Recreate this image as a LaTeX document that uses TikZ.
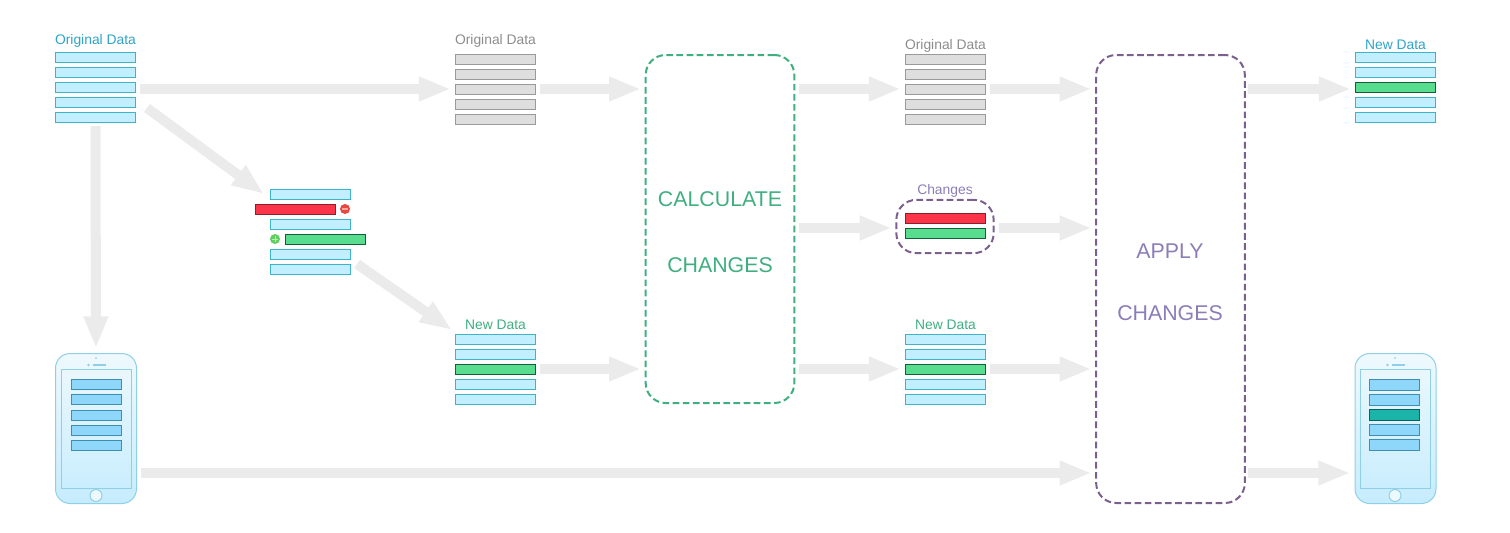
\documentclass[tikz,border=0pt]{standalone}
\usepackage{fontspec}
\setmainfont{Liberation Sans}
\usetikzlibrary{arrows.meta}
\definecolor{rowfill}{HTML}{C2EFFF}
\definecolor{rowline}{HTML}{3FB4C8}
\definecolor{grayfill}{HTML}{DEDEDE}
\definecolor{grayline}{HTML}{9A9A9A}
\definecolor{greenfill}{HTML}{57DD8D}
\definecolor{greenline}{HTML}{125F3C}
\definecolor{redfill}{HTML}{FB3449}
\definecolor{redline}{HTML}{8C1F2C}
\definecolor{flow}{HTML}{EBEBEB}
\definecolor{calcgreen}{HTML}{3FAF80}
\definecolor{applyline}{HTML}{7A5F8F}
\definecolor{applytext}{HTML}{8C7DB8}
\definecolor{labelblue}{HTML}{2FA3C9}
\definecolor{labelgray}{HTML}{8C8C8C}
\definecolor{phoneline}{HTML}{8FD0E8}
\definecolor{phonerow}{HTML}{8FD6FB}
\definecolor{phonerowline}{HTML}{3C8FB0}
\definecolor{tealfill}{HTML}{1AB5A8}
\definecolor{tealline}{HTML}{0C5F60}
\definecolor{phonetop}{HTML}{EEF9FD}
\definecolor{phonebot}{HTML}{C6ECFD}
\definecolor{minusfill}{HTML}{E8483F}
\definecolor{minusbar}{HTML}{F5A8A0}
\definecolor{plusfill}{HTML}{5FD060}
\definecolor{plusbar}{HTML}{B5EDB5}
\tikzset{
	row/.style={draw=rowline, fill=rowfill, line width=0.75pt, minimum width=60pt, minimum height=7.5pt, inner sep=0pt, outer sep=0pt},
	grayrow/.style={row, draw=grayline, fill=grayfill},
	newrow/.style={row, draw=greenline, fill=greenfill},
	delrow/.style={row, draw=redline, fill=redfill},
	phonerowbox/.style={row, draw=phonerowline, fill=phonerow, minimum width=38pt, minimum height=7.8pt},
	tealrow/.style={phonerowbox, draw=tealline, fill=tealfill},
	flowarrow/.style={draw=flow, line width=7.5pt, -{Triangle[length=24pt, width=17pt]}},
	bigbox/.style={draw=#1, dashed, dash pattern=on 5pt off 2.6pt, line width=1.5pt, rounded corners=15pt, inner sep=0pt, outer sep=0pt},
	caption/.style={font=\fontsize{10.4pt}{12pt}\selectfont, inner sep=0pt},
	bigtext/.style={font=\fontsize{16pt}{18pt}\selectfont, inner sep=0pt},
	phonebody/.style={draw=phoneline, line width=0.75pt, rounded corners=11pt, top color=phonetop, bottom color=phonebot},
}
\begin{document}
\begin{tikzpicture}[x=0.75pt, y=-0.75pt]
	\useasboundingbox (0,0) rectangle (1510,532);
	% flow boxes
	\node[bigbox=calcgreen, minimum width=111.5pt, minimum height=261pt] (calc) at (720,229) {};
	\node[bigbox=applyline, minimum width=111.5pt, minimum height=336pt] (apply) at (1170.5,279) {};
	\node[bigbox=applyline, minimum width=73pt, minimum height=40pt] (chgbox) at (945,226.5) {};
	\node[bigtext, text=calcgreen] (calcup) at (720,199) {CALCULATE};
	\node[bigtext, text=calcgreen] (calcdown) at (720,265) {CHANGES};
	\node[bigtext, text=applytext] (applyup) at (1170,251) {APPLY};
	\node[bigtext, text=applytext] (applydown) at (1170,313) {CHANGES};
	% data stacks
	\node[caption, text=labelblue] (origcap) at (95.5,40.5) {Original Data};
	\foreach \i in {1,...,5}
		\node[row] (orig\i) at (95.5,{42+15*\i}) {};
	\node[caption, text=labelgray] (grayacap) at (495.5,40.5) {Original Data};
	\foreach \i in {1,...,5}
		\node[grayrow] (graya\i) at (495.5,{44+15*\i}) {};
	\node[caption, text=labelgray] (graybcap) at (945.5,45.5) {Original Data};
	\foreach \i in {1,...,5}
		\node[grayrow] (grayb\i) at (945.5,{44+15*\i}) {};
	\node[caption, text=labelblue] (donecap) at (1395.5,45) {New Data};
	\foreach \i/\s in {1/row,2/row,3/newrow,4/row,5/row}
		\node[\s] (done\i) at (1395.5,{42+15*\i}) {};
	\node[caption, text=calcgreen] (newacap) at (495.5,325) {New Data};
	\foreach \i/\s in {1/row,2/row,3/newrow,4/row,5/row}
		\node[\s] (newa\i) at (495.5,{324+15*\i}) {};
	\node[caption, text=calcgreen] (newbcap) at (945.5,325) {New Data};
	\foreach \i/\s in {1/row,2/row,3/newrow,4/row,5/row}
		\node[\s] (newb\i) at (945.5,{324+15*\i}) {};
	% diff stack
	\node[row] (diffa) at (310.5,194) {};
	\node[delrow] (diffb) at (295.5,209) {};
	\node[row] (diffc) at (310.5,224) {};
	\node[newrow] (diffd) at (325.5,239) {};
	\node[row] (diffe) at (310.5,254) {};
	\node[row] (difff) at (310.5,269) {};
	\node[circle, fill=minusfill, minimum size=7.5pt, inner sep=0pt] (minus) at (345,209) {};
	\draw[minusbar, line width=0.8pt] (minus.west) ++(1.5pt,0) -- ++(4.5pt,0);
	\node[circle, fill=plusfill, minimum size=7.5pt, inner sep=0pt] (plus) at (275,239) {};
	\draw[plusbar, line width=0.6pt] (plus.west) ++(1.5pt,0) -- ++(4.5pt,0);
	\draw[plusbar, line width=0.6pt] (plus.north) ++(0,-1.5pt) -- ++(0,-4.5pt);
	% changes
	\node[caption, text=applytext] (chgcap) at (945,190.5) {Changes};
	\node[delrow] (chga) at (945.5,218.5) {};
	\node[newrow] (chgb) at (945.5,233.5) {};
	% phones
	\draw[phonebody] (55.5,353.5) rectangle (136.5,503.5);
	\draw[draw=phoneline, line width=0.75pt] (61.5,369.5) rectangle (131,488);
	\draw[draw=phoneline, fill=phonetop, line width=0.75pt] (96,495.5) circle (6);
	\fill[phoneline] (96,358) circle (1);
	\fill[phoneline] (88.5,365) circle (1.3);
	\draw[phoneline, line width=1pt] (92.5,365) -- (105.5,365);
	\foreach \i/\y in {1/384.5,2/399.5,3/415.5,4/430.5,5/445.5}
		\node[phonerowbox] (ph\i) at (96.5,\y) {};
	\draw[phonebody] (1355,353.5) rectangle (1436,503.5);
	\draw[draw=phoneline, line width=0.75pt] (1360.5,369.5) rectangle (1430,488);
	\draw[draw=phoneline, fill=phonetop, line width=0.75pt] (1395,495.5) circle (6);
	\fill[phoneline] (1395,358) circle (1);
	\fill[phoneline] (1387.5,365) circle (1.3);
	\draw[phoneline, line width=1pt] (1391.5,365) -- (1404.5,365);
	\foreach \i/\s/\y in {1/phonerowbox/385,2/phonerowbox/400,3/tealrow/415,4/phonerowbox/430,5/phonerowbox/445}
		\node[\s] (pj\i) at (1394.5,\y) {};
	% anchors for phones and slanted arrows
	\coordinate (phleft) at (136.5,473);
	\coordinate (phright) at (1355,473);
	\coordinate (phtop) at (96,353);
	\coordinate (chgmid) at (945,228);
	\coordinate (diagastart) at (147,108);
	\coordinate (diagaend) at (264,194);
	\coordinate (diagbstart) at (357,264);
	\coordinate (diagbend) at (452,330);
	% flow arrows
	\draw[flowarrow, shorten <=3pt, shorten >=3.5pt] (orig3.east |- graya3) -- (graya3.west);
	\draw[flowarrow, shorten <=3pt, shorten >=3.5pt] (graya3.east) -- (graya3.east -| calc.west);
	\draw[flowarrow, shorten <=3.5pt, shorten >=3.5pt] (graya3.east -| calc.east) -- (grayb3.west);
	\draw[flowarrow, shorten <=3pt, shorten >=3.5pt] (grayb3.east) -- (grayb3.east -| apply.west);
	\draw[flowarrow, shorten <=2pt, shorten >=3.5pt] (grayb3.east -| apply.east) -- (grayb3.east -| done3.west);
	\draw[flowarrow, shorten <=3.5pt, shorten >=3.5pt] (chgmid -| calc.east) -- (chgmid -| chgbox.west);
	\draw[flowarrow, shorten <=4pt, shorten >=3.5pt] (chgmid -| chgbox.east) -- (chgmid -| apply.west);
	\draw[flowarrow, shorten <=3pt, shorten >=3.5pt] (newa3.east) -- (newa3.east -| calc.west);
	\draw[flowarrow, shorten <=3.5pt, shorten >=3.5pt] (newa3.east -| calc.east) -- (newb3.west);
	\draw[flowarrow, shorten <=3pt, shorten >=3.5pt] (newb3.east) -- (newb3.east -| apply.west);
	\draw[flowarrow, shorten <=3pt, shorten >=3.5pt] (orig5.south) -- (phtop);
	\draw[flowarrow] (diagastart) -- (diagaend);
	\draw[flowarrow] (diagbstart) -- (diagbend);
	\draw[flowarrow, shorten <=3pt, shorten >=3.5pt] (phleft) -- (phleft -| apply.west);
	\draw[flowarrow, shorten <=2pt, shorten >=3.5pt] (phleft -| apply.east) -- (phright);
\end{tikzpicture}
\end{document}
